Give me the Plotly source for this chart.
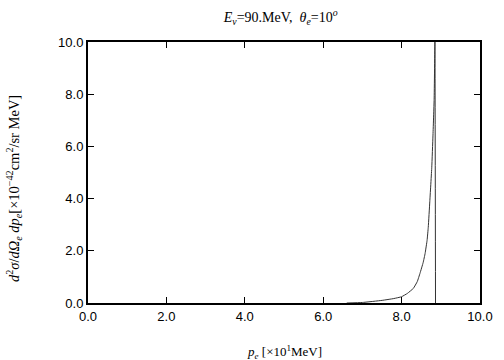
import plotly.graph_objects as go

# momentum p_e [x10^1 MeV]
p_e = [6.6, 7.0, 7.5, 7.8, 8.0, 8.15, 8.3, 8.4, 8.47, 8.55, 8.6, 8.65, 8.68, 8.72, 8.77, 8.8, 8.83, 8.85, 8.865]
# cross section [x10^-42 cm^2/sr MeV]
xsec = [0.0, 0.02, 0.1, 0.17, 0.24, 0.37, 0.56, 0.82, 1.14, 1.55, 1.9, 2.4, 2.9, 3.9, 5.2, 6.4, 7.8, 10.0, 0.0]

x_ticks = [0, 2, 4, 6, 8, 10]
x_tick_labels = ["0.0", "2.0", "4.0", "6.0", "8.0", "10.0"]
y_ticks = [0, 2, 4, 6, 8, 10]
y_tick_labels = ["0.0", "2.0", "4.0", "6.0", "8.0", "10.0"]

serif = "Liberation Serif, Times New Roman, serif"
sans = "Liberation Sans, Arial, Helvetica, sans-serif"

fig = go.Figure()
fig.add_trace(go.Scatter(x=p_e, y=xsec, mode="lines",
                         line=dict(color="#333333", width=1, shape="spline", smoothing=0.3),
                         showlegend=False, hoverinfo="skip"))

axis_common = dict(showgrid=False, zeroline=False, showline=True, linecolor="black",
                   linewidth=2, mirror="ticks", ticks="inside", ticklen=6,
                   tickwidth=1, tickcolor="black",
                   tickfont=dict(family=sans, size=13, color="black"))

fig.update_layout(
    width=504, height=360,
    margin=dict(l=88, r=24, t=42, b=57),
    paper_bgcolor="white", plot_bgcolor="white",
    title=dict(text="<i>E</i><sub><i>ν</i></sub>=90.MeV,  <i>θ</i><sub><i>e</i></sub>=10<sup><i>o</i></sup>",
               x=0.557, xanchor="center", y=0.953, yanchor="middle",
               font=dict(family=serif, size=14, color="black")),
    xaxis=dict(range=[0, 10], tickvals=x_ticks, ticktext=x_tick_labels, **axis_common),
    yaxis=dict(range=[0, 10], tickvals=y_ticks, ticktext=y_tick_labels, **axis_common),
    annotations=[
        dict(text="<i>p</i><sub><i>e</i></sub> [×10<sup>1</sup>MeV]",
             xref="paper", yref="paper", x=0.5, y=-0.188, xanchor="center", yanchor="middle",
             showarrow=False, font=dict(family=serif, size=13, color="black")),
        dict(text="<i>d</i><sup>2</sup><i>σ</i>/<i>d</i><i>Ω</i><sub><i>e</i></sub> <i>dp</i><sub><i>e</i></sub>[×10<sup>−42</sup>cm<sup>2</sup>/sr MeV]",
             xref="paper", yref="paper", x=-0.189, y=0.44, xanchor="center", yanchor="middle",
             textangle=-90, showarrow=False, font=dict(family=serif, size=14.5, color="black")),
    ],
)

fig.write_html("out.html", config={"displayModeBar": False},
               post_script="document.body.style.margin='0';")
